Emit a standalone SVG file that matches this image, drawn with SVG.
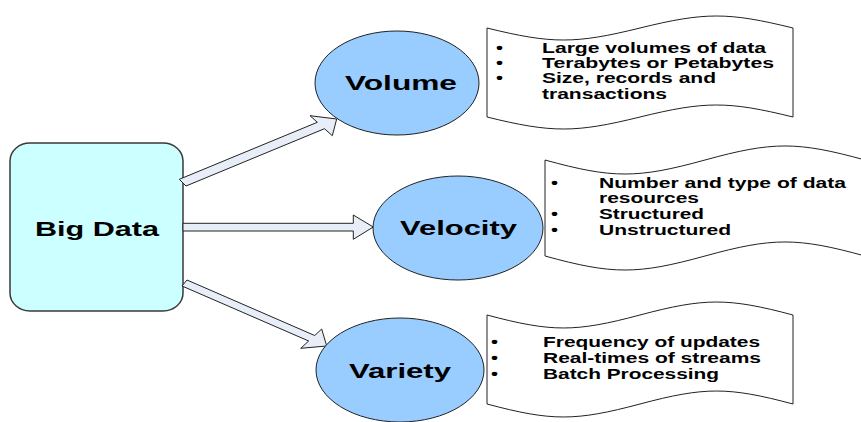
<svg xmlns="http://www.w3.org/2000/svg" width="861" height="422" viewBox="0 0 861 422">
  <style>
    .box { fill: #CCFFFF; stroke: #3a3a3a; stroke-width: 1.5; }
    .oval { fill: #99CCFF; stroke: #222; stroke-width: 1; }
    .doc { fill: #FFFFFF; stroke: #222; stroke-width: 1; }
    .arrow { fill: #E8EEF8; stroke: #222; stroke-width: 1; stroke-linejoin: miter; }
    .title { font-family: "Liberation Sans", Arial, sans-serif; font-weight: bold; font-size: 20px; fill: #000; }
    .item { font-family: "Liberation Sans", Arial, sans-serif; font-weight: bold; font-size: 14px; fill: #000; }
  </style>

  <rect width="861" height="422" fill="#FFFFFF"/>

  <!-- central node -->
  <g id="big-data">
    <rect class="box" x="10" y="143" width="173" height="168" rx="20" ry="18"/>
    <text class="title" x="35" y="236" textLength="124" lengthAdjust="spacingAndGlyphs">Big Data</text>
  </g>

  <!-- block arrows -->
  <g id="connectors">
    <polygon class="arrow" points="179.3,179.3 317.3,122.3 310,115.7 336.7,119 332.3,135.7 324.5,128.7 186,186"/>
    <polygon class="arrow" points="183,223.3 353.3,223.3 353.3,215 373.3,227 353.3,239.3 353.3,231 183,231"/>
    <polygon class="arrow" points="187,280 314.7,335.5 321.7,329 326.7,346 300.7,348.3 308.7,341 182,286"/>
  </g>

  <!-- V nodes -->
  <g id="volume">
    <ellipse class="oval" cx="397" cy="83" rx="82" ry="52"/>
    <text class="title" x="345" y="90" textLength="112" lengthAdjust="spacingAndGlyphs">Volume</text>
  </g>

  <g id="velocity">
    <ellipse class="oval" cx="458" cy="228" rx="85" ry="52"/>
    <text class="title" x="400" y="235" textLength="117" lengthAdjust="spacingAndGlyphs">Velocity</text>
  </g>

  <g id="variety">
    <ellipse class="oval" cx="400" cy="370" rx="84" ry="52"/>
    <text class="title" x="349" y="378" textLength="102" lengthAdjust="spacingAndGlyphs">Variety</text>
  </g>

  <!-- wavy note sheets (punched-tape outline) -->
  <g id="volume-notes">
    <path class="doc" d="M487,28 C551.9,44 575.1,44 640,28 C704.9,12 728.1,12 793,28 L793,117 C728.1,101 704.9,101 640,117 C575.1,133 551.9,133 487,117 Z"/>
    <text class="item" x="496" y="52.7" textLength="7" lengthAdjust="spacingAndGlyphs">•</text>
    <text class="item" x="496" y="67.7" textLength="7" lengthAdjust="spacingAndGlyphs">•</text>
    <text class="item" x="496" y="83.3" textLength="7" lengthAdjust="spacingAndGlyphs">•</text>
    <text class="item" x="542" y="52.7" textLength="224" lengthAdjust="spacingAndGlyphs">Large volumes of data</text>
    <text class="item" x="542" y="67.7" textLength="232" lengthAdjust="spacingAndGlyphs">Terabytes or Petabytes</text>
    <text class="item" x="542" y="83.3" textLength="174" lengthAdjust="spacingAndGlyphs">Size, records and</text>
    <text class="item" x="542" y="99" textLength="125" lengthAdjust="spacingAndGlyphs">transactions</text>
  </g>

  <g id="velocity-notes">
    <path class="doc" d="M545,160 C612.8,178.7 637.2,178.7 705,160 C772.8,141.3 797.2,141.3 865,160 L865,256 C797.2,237.3 772.8,237.3 705,256 C637.2,274.7 612.8,274.7 545,256 Z"/>
    <text class="item" x="551" y="187.5" textLength="7" lengthAdjust="spacingAndGlyphs">•</text>
    <text class="item" x="551" y="219" textLength="7" lengthAdjust="spacingAndGlyphs">•</text>
    <text class="item" x="551" y="235" textLength="7" lengthAdjust="spacingAndGlyphs">•</text>
    <text class="item" x="599" y="187.5" textLength="247" lengthAdjust="spacingAndGlyphs">Number and type of data</text>
    <text class="item" x="599" y="203.3" textLength="100" lengthAdjust="spacingAndGlyphs">resources</text>
    <text class="item" x="599" y="219" textLength="105" lengthAdjust="spacingAndGlyphs">Structured</text>
    <text class="item" x="599" y="235" textLength="132" lengthAdjust="spacingAndGlyphs">Unstructured</text>
  </g>

  <g id="variety-notes">
    <path class="doc" d="M487,315 C551.9,332.3 575.1,332.3 640,315 C704.9,297.7 728.1,297.7 793,315 L793,404 C728.1,386.7 704.9,386.7 640,404 C575.1,421.3 551.9,421.3 487,404 Z"/>
    <text class="item" x="491" y="347" textLength="7" lengthAdjust="spacingAndGlyphs">•</text>
    <text class="item" x="491" y="363" textLength="7" lengthAdjust="spacingAndGlyphs">•</text>
    <text class="item" x="491" y="378.5" textLength="7" lengthAdjust="spacingAndGlyphs">•</text>
    <text class="item" x="543" y="347" textLength="217" lengthAdjust="spacingAndGlyphs">Frequency of updates</text>
    <text class="item" x="543" y="363" textLength="218" lengthAdjust="spacingAndGlyphs">Real-times of streams</text>
    <text class="item" x="543" y="378.5" textLength="176" lengthAdjust="spacingAndGlyphs">Batch Processing</text>
  </g>
</svg>
